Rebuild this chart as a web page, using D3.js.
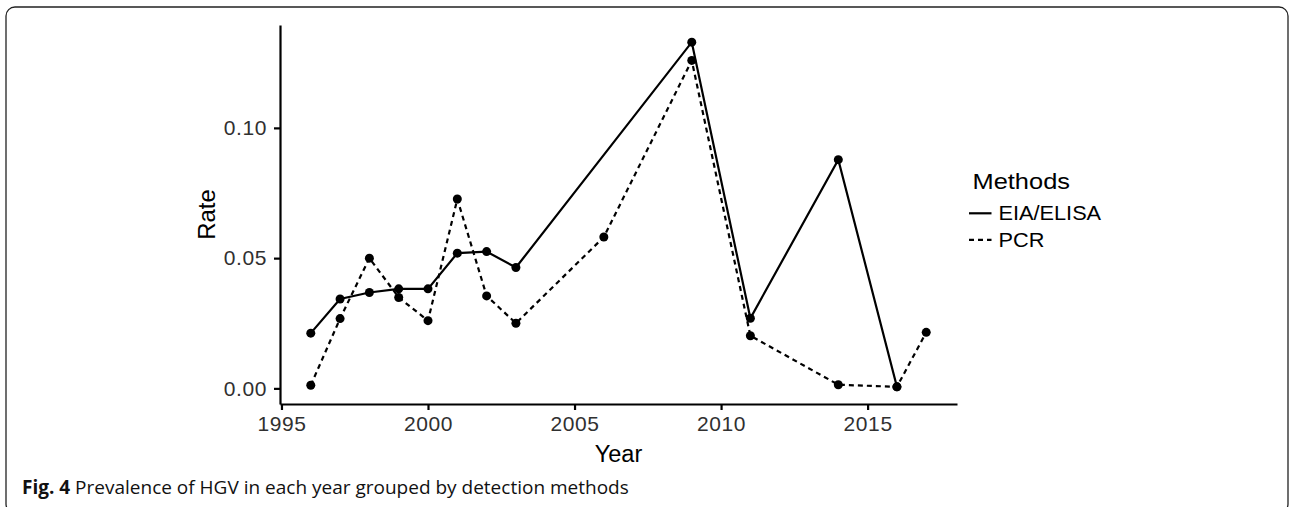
<!DOCTYPE html>
<html>
<head>
<meta charset="utf-8">
<script src="https://cdn.jsdelivr.net/npm/d3@7"></script>
<style>
  body { margin: 0; background: #fff; }
  svg { display: block; }
  .axis text { font-family: "Liberation Sans", Arial, sans-serif; font-size: 21px; letter-spacing: 0.6px; fill: #303030; }
  .axis path, .axis line { stroke: #000; stroke-width: 2.2px; }
</style>
</head>
<body>
<svg id="chart" width="1292" height="507"></svg>
<script>
// values
var eiaYears = [1996, 1997, 1998, 1999, 2000, 2001, 2002, 2003, 2009, 2011, 2014, 2016];
var eiaRates = [0.0212, 0.0343, 0.0368, 0.0382, 0.0382, 0.0519, 0.0525, 0.0464, 0.1329, 0.0269, 0.0878, 0.0006];
var pcrYears = [1996, 1997, 1998, 1999, 2000, 2001, 2002, 2003, 2006, 2009, 2011, 2014, 2016, 2017];
var pcrRates = [0.0012, 0.0268, 0.0500, 0.0349, 0.0260, 0.0727, 0.0355, 0.0250, 0.0581, 0.1259, 0.0202, 0.0014, 0.0006, 0.0215];
var xTicks = [1995, 2000, 2005, 2010, 2015];
var yTicks = [0, 0.05, 0.10];
var seriesNames = ["EIA/ELISA", "PCR"];

window.onload = function() {

    var margin = {top: 25, right: 335, bottom: 103, left: 280},
        width = 1292 - margin.left - margin.right,
        height = 507 - margin.top - margin.bottom;

    var series = [
        {name: seriesNames[0], dash: null, values: eiaYears.map(function (d, i) { return {year: d, rate: eiaRates[i]}; })},
        {name: seriesNames[1], dash: "5,4", values: pcrYears.map(function (d, i) { return {year: d, rate: pcrRates[i]}; })}
    ];

    var svg = d3.select("#chart");

    // rounded frame round the figure (bottom runs off the page)
    svg.append("rect")
        .attr("x", 6)
        .attr("y", 7)
        .attr("width", 1282)
        .attr("height", 506)
        .attr("rx", 9)
        .style("fill", "none")
        .style("stroke", "#222")
        .style("stroke-width", 1.3);

    var g = svg.append("g")
        .attr("transform", "translate(" + margin.left + "," + margin.top + ")");

    // ggplot style 5% expansion
    var x = d3.scaleLinear()
        .domain([1994.95, 2018.05])
        .range([0, width]);

    var y = d3.scaleLinear()
        .domain([-0.006, 0.1395])
        .range([height, 0]);

    g.append("g")
        .attr("class", "axis")
        .attr("transform", "translate(0," + height + ")")
        .call(d3.axisBottom(x).tickValues(xTicks).tickFormat(d3.format("d")).tickSize(6).tickSizeOuter(0).tickPadding(6));

    g.append("g")
        .attr("class", "axis")
        .call(d3.axisLeft(y).tickValues(yTicks).tickFormat(d3.format(".2f")).tickSize(6).tickSizeOuter(0).tickPadding(7));

    var line = d3.line()
        .x(function (d) { return x(d.year); })
        .y(function (d) { return y(d.rate); });

    series.forEach(function (s) {
        g.append("path")
            .datum(s.values)
            .attr("d", line)
            .style("fill", "none")
            .style("stroke", "#000")
            .style("stroke-width", 2.2)
            .style("stroke-dasharray", s.dash);

        g.selectAll(null)
            .data(s.values)
            .enter().append("circle")
            .attr("cx", function (d) { return x(d.year); })
            .attr("cy", function (d) { return y(d.rate); })
            .attr("r", 4.5)
            .style("fill", "#000");
    });

    // axis titles
    g.append("text")
        .attr("x", width / 2)
        .attr("y", height + 58)
        .attr("text-anchor", "middle")
        .style("font-family", "Liberation Sans, Arial, sans-serif")
        .style("font-size", "23.5px")
        .text("Year");

    g.append("text")
        .attr("transform", "translate(-65," + (height / 2) + ") rotate(-90)")
        .attr("text-anchor", "middle")
        .style("font-family", "Liberation Sans, Arial, sans-serif")
        .style("font-size", "24px")
        .text("Rate");

    // legend
    var legend = svg.append("g")
        .attr("transform", "translate(969,189)");

    legend.append("text")
        .attr("transform", "translate(3.5,0) scale(1.13,1)")
        .style("font-family", "Liberation Sans, Arial, sans-serif")
        .style("font-size", "22.5px")
        .text("Methods");

    var items = legend.selectAll("g.item")
        .data(series)
        .enter().append("g")
        .attr("class", "item")
        .attr("transform", function (d, i) {
            return "translate(0," + (i * 26.5 + 31) + ")";
        });

    items.append("line")
        .attr("x1", 0)
        .attr("x2", 22.5)
        .attr("y1", -6.7)
        .attr("y2", -6.7)
        .style("stroke", "#000")
        .style("stroke-width", 2.2)
        .style("stroke-dasharray", function (d) { return d.dash; });

    items.append("text")
        .attr("transform", "translate(29.5,0) scale(1.06,1)")
        .style("font-family", "Liberation Sans, Arial, sans-serif")
        .style("font-size", "20.5px")
        .text(function (d) { return d.name; });

    // caption
    var caption = svg.append("text")
        .attr("x", 22)
        .attr("y", 494)
        .style("font-family", "Open Sans, sans-serif")
        .style("font-size", "19px")
        .style("fill", "#111");

    caption.append("tspan")
        .style("font-weight", "bold")
        .text("Fig. 4");

    caption.append("tspan")
        .text(" Prevalence of HGV in each year grouped by detection methods");
};
</script>
</body>
</html>
